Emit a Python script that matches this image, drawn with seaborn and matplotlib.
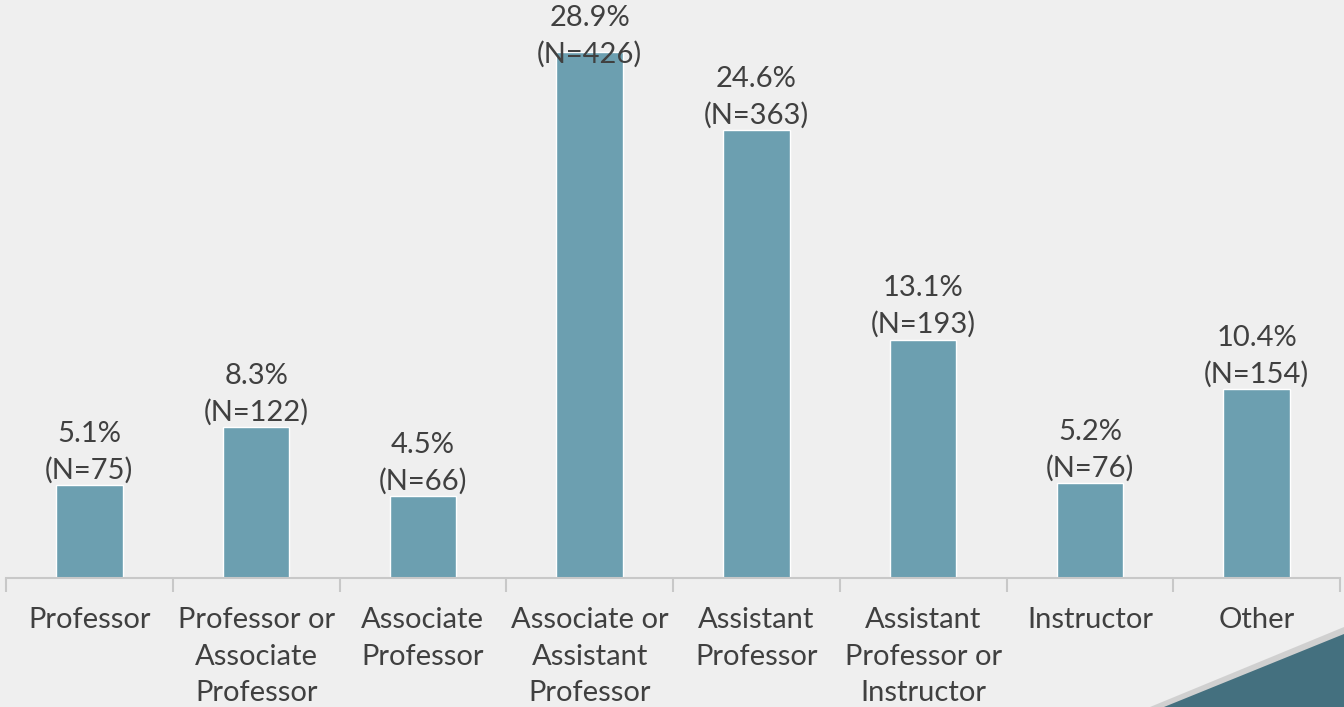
import matplotlib
matplotlib.use("Agg")
import matplotlib.pyplot as plt
import seaborn as sns
import pandas as pd
import numpy as np
from matplotlib.patches import Polygon

categories = ["Professor", "Professor or\nAssociate\nProfessor", "Associate\nProfessor",
              "Associate or\nAssistant\nProfessor", "Assistant\nProfessor",
              "Assistant\nProfessor or\nInstructor", "Instructor", "Other"]
percents = [5.1, 8.3, 4.5, 28.9, 24.6, 13.1, 5.2, 10.4]
counts = [75, 122, 66, 426, 363, 193, 76, 154]

bg = "#EFEFEF"
bar_color = "#6C9FB0"
text_color = "#404040"

sns.set_theme(style="white")
plt.rcParams['font.family'] = ['Lato', 'DejaVu Sans']

df = pd.DataFrame({"cat": categories, "pct": percents, "n": counts})

fig = plt.figure(figsize=(13.44, 7.07), dpi=100, facecolor=bg)
ax = fig.add_axes([6/1344, 129/707, 1334/1344, 578/707])
ax.set_facecolor(bg)

sns.barplot(data=df, x="cat", y="pct", color=bar_color, width=0.4, ax=ax, saturation=1)

ax.set_ylim(0, 578/18.2)
ax.set_xlim(-0.5, len(categories) - 0.5)
for s in ["top", "right", "left"]:
    ax.spines[s].set_visible(False)
ax.spines["bottom"].set_color("#C8C8C8")
ax.spines["bottom"].set_linewidth(1.5)
ax.set_yticks([])
ax.set_xlabel("")
ax.set_ylabel("")

ax.set_xticks(np.arange(-0.5, len(categories), 1), minor=True)
ax.tick_params(axis="x", which="minor", length=10, width=1.5, color="#C8C8C8", bottom=True)
ax.tick_params(axis="x", which="major", length=0, pad=21)
ax.set_xticks(range(len(categories)))
ax.set_xticklabels(categories, fontsize=21, color=text_color, linespacing=1.5, va="top")
for lbl in ax.get_xticklabels():
    lbl.set_horizontalalignment("center")

top_i = int(np.argmax(percents))
for i, (p, n) in enumerate(zip(percents, counts)):
    off = -11 if i == top_i else 1
    ax.annotate(f"{p}%\n(N={n})", xy=(i, p), xytext=(0, off), textcoords="offset points",
                ha="center", va="bottom", fontsize=21, color=text_color, linespacing=1.45,
                annotation_clip=False, zorder=5)

# decorative corner
shadow = Polygon([[1150/1344, 0], [1344/1344, 0], [1344/1344, 80/707]], closed=True,
                 transform=fig.transFigure, facecolor="#C4C4C4", edgecolor="none", alpha=0.7, zorder=0)
tri = Polygon([[1164/1344, 0], [1344/1344, 0], [1344/1344, 73/707]], closed=True,
              transform=fig.transFigure, facecolor="#44707F", edgecolor="none", zorder=1)
fig.patches.extend([shadow, tri])

fig.savefig("out.png", dpi=100, facecolor=bg)
